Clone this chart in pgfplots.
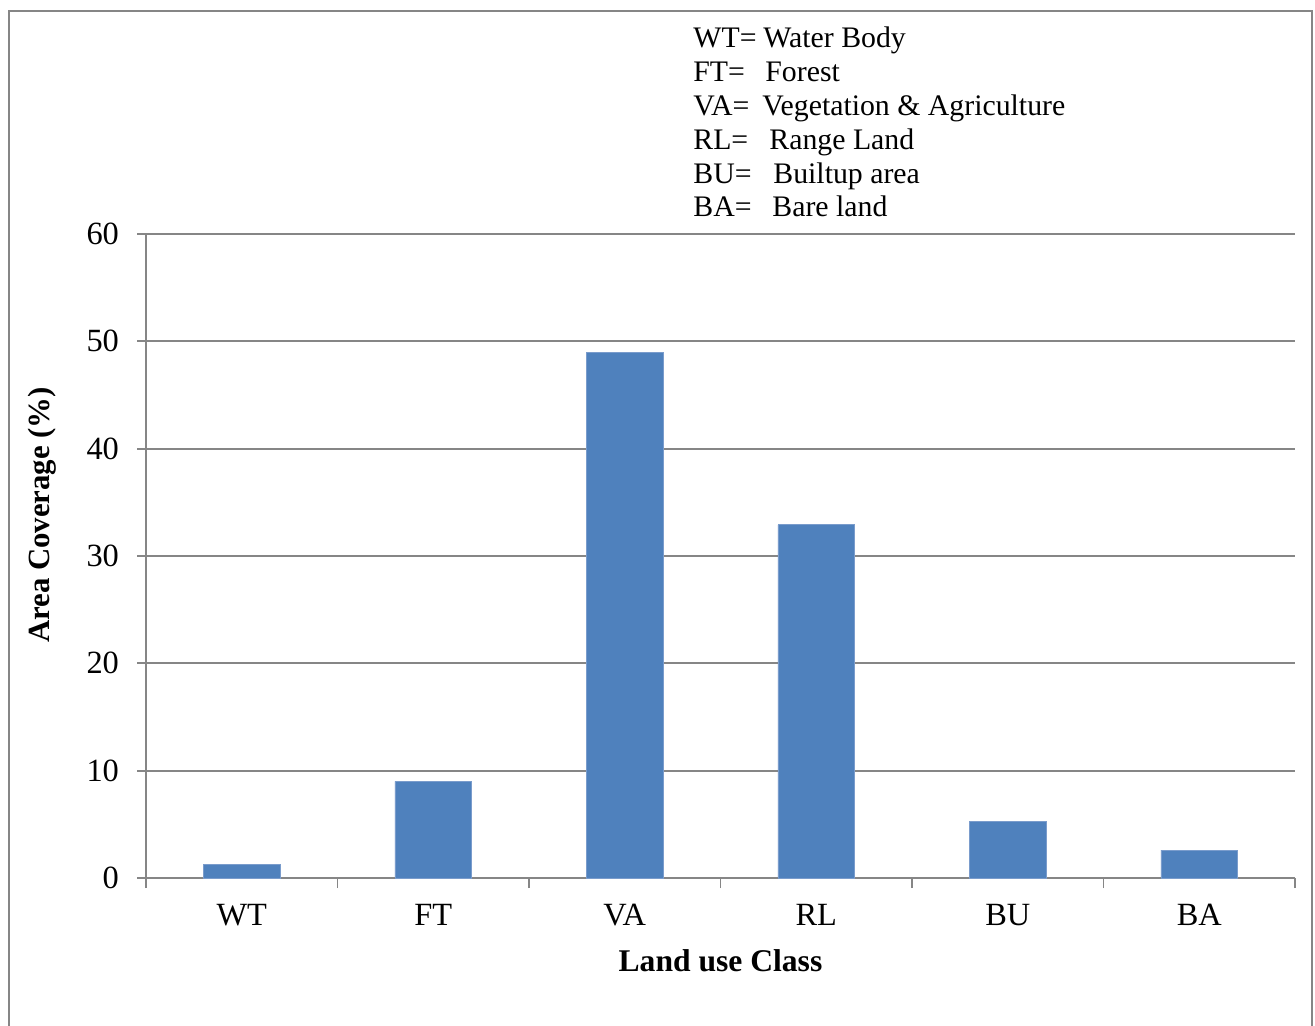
\documentclass[border=0pt]{standalone}
\usepackage{pgfplots}
\pgfplotsset{compat=1.18}
\usepackage{fontspec}
\setmainfont{Liberation Serif}

\definecolor{barblue}{RGB}{79,129,189}
\definecolor{baredge}{RGB}{122,156,204}
\definecolor{axgray}{RGB}{134,134,134}

\begin{document}
\begin{tikzpicture}[x=1pt,y=1pt]
  % page area and outer chart frame
  \useasboundingbox (0,0) rectangle (657.5,-513);
  \draw[axgray, line width=0.9pt] (4.5,-513) -- (4.5,-5.5) -- (656,-5.5) -- (656,-513);

  \begin{axis}[
      at={(73pt,-439pt)}, anchor=south west,
      scale only axis, width=574.5pt, height=322pt,
      xmin=-0.5, xmax=5.5, ymin=0, ymax=60,
      axis x line=bottom, axis y line=left,
      axis line style={axgray, line width=0.9pt, -},
      xtick={0,1,2,3,4,5},
      xticklabels={WT,FT,VA,RL,BU,BA},
      minor xtick={-0.5,0.5,1.5,2.5,3.5,4.5,5.5},
      ytick={0,10,20,30,40,50,60},
      tick align=outside,
      major tick length=4.5pt, minor tick length=5pt,
      major x tick style={draw=none},
      minor x tick style={axgray, line width=0.9pt},
      major y tick style={axgray, line width=0.9pt},
      ymajorgrids=true,
      grid style={axgray, line width=0.9pt},
      /pgf/number format/assume math mode=true,
      tick label style={font=\fontsize{16.2}{19}\selectfont, black},
      yticklabel style={xshift=-5.5pt},
      xticklabel style={yshift=-5pt},
      clip=false,
    ]
    \addplot[ybar, bar width=0.4, fill=barblue, draw=baredge, line width=0.4pt]
      coordinates {(0,1.3) (1,9.0) (2,49.0) (3,32.9) (4,5.3) (5,2.6)};
    \node[font=\fontsize{15.8}{19}\selectfont\bfseries] at (axis description cs:0.5,-0.129) {Land use Class};
    \node[font=\fontsize{15.4}{19}\selectfont\bfseries, rotate=90] at (axis description cs:-0.0905,0.5637) {Area Coverage (\%)};
  \end{axis}

  % class key
  \begin{scope}[every node/.style={anchor=base west, inner sep=0pt, font=\fontsize{14.9}{17}\selectfont}]
    \node at (346.5,-24.0) {WT=}; \node at (381.5,-24.0) {Water Body};
    \node at (346.5,-40.9) {FT=}; \node at (382.5,-40.9) {Forest};
    \node at (346.5,-57.8) {VA=}; \node at (381.0,-57.8) {Vegetation \& Agriculture};
    \node at (346.5,-74.7) {RL=}; \node at (384.5,-74.7) {Range Land};
    \node at (346.5,-91.6) {BU=}; \node at (386.5,-91.6) {Builtup area};
    \node at (346.5,-108.5) {BA=}; \node at (386.0,-108.5) {Bare land};
  \end{scope}
\end{tikzpicture}
\end{document}
